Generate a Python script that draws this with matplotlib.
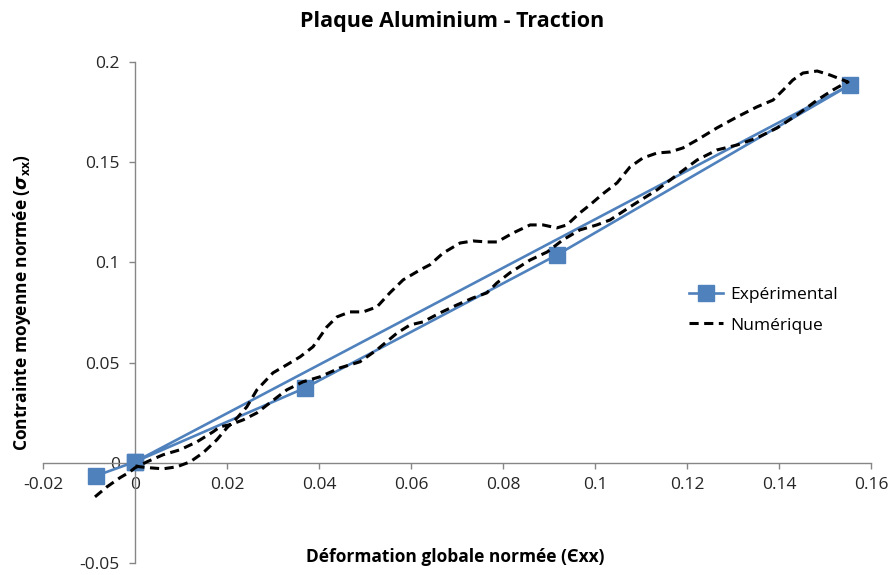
import numpy as np
import matplotlib.pyplot as plt

plt.rcParams['font.family'] = ['Open Sans', 'DejaVu Sans']
plt.rcParams['mathtext.fontset'] = 'custom'
plt.rcParams['mathtext.it'] = 'DejaVu Sans:bold:italic'
plt.rcParams['mathtext.rm'] = 'Open Sans:bold'

# experimental loop (markers)
exp_x = [-0.0085, 0.0, 0.0370, 0.0917, 0.1554, 0.0]
exp_y = [-0.0065, 0.0005, 0.0374, 0.1037, 0.1885, 0.0005]

# numerical curve: loading branch then unloading branch
num_load_x = [-0.0087, -0.0061, -0.0033, -0.0011, 0.0, 0.0026, 0.0061, 0.0098, 0.0135,
              0.0170, 0.0185, 0.0207, 0.0235, 0.0265, 0.0293, 0.0330, 0.0365, 0.0402,
              0.0446, 0.0489, 0.0526, 0.0570, 0.0598, 0.0626, 0.0663, 0.0700, 0.0735,
              0.0765, 0.0787, 0.0815, 0.0859, 0.0896, 0.0930, 0.0967, 0.1004, 0.1033,
              0.1076, 0.1135, 0.1178, 0.1222, 0.1265, 0.1309, 0.1352, 0.1396, 0.1439,
              0.1483, 0.1517, 0.1548]
num_load_y = [-0.0170, -0.0120, -0.0075, -0.0045, -0.0025, 0.0005, 0.0040, 0.0065, 0.0105,
              0.0155, 0.0180, 0.0190, 0.0214, 0.0249, 0.0299, 0.0364, 0.0404, 0.0429,
              0.0474, 0.0504, 0.0564, 0.0648, 0.0688, 0.0703, 0.0748, 0.0788, 0.0823,
              0.0848, 0.0898, 0.0948, 0.1012, 0.1052, 0.1112, 0.1162, 0.1187, 0.1212,
              0.1277, 0.1362, 0.1436, 0.1511, 0.1561, 0.1586, 0.1621, 0.1671, 0.1736,
              0.1810, 0.1860, 0.1900]
num_unload_x = [0.1550, 0.1539, 0.1511, 0.1483, 0.1452, 0.1430, 0.1409, 0.1387, 0.1352,
                0.1309, 0.1265, 0.1222, 0.1191, 0.1163, 0.1135, 0.1104, 0.1076, 0.1048,
                0.1017, 0.0989, 0.0967, 0.0939, 0.0917, 0.0887, 0.0859, 0.0822, 0.0787,
                0.0765, 0.0735, 0.0707, 0.0670, 0.0641, 0.0620, 0.0583, 0.0554, 0.0526,
                0.0496, 0.0467, 0.0439, 0.0417, 0.0387, 0.0359, 0.0330, 0.0300, 0.0265,
                0.0243, 0.0222, 0.0200, 0.0178, 0.0148, 0.0120, 0.0091, 0.0061, 0.0033,
                0.0011, 0.0]
num_unload_y = [0.1900, 0.1910, 0.1935, 0.1955, 0.1945, 0.1910, 0.1860, 0.1810, 0.1776,
                0.1726, 0.1671, 0.1611, 0.1571, 0.1551, 0.1546, 0.1521, 0.1476, 0.1397,
                0.1342, 0.1287, 0.1247, 0.1187, 0.1172, 0.1187, 0.1187, 0.1147, 0.1102,
                0.1102, 0.1107, 0.1097, 0.1047, 0.0988, 0.0963, 0.0913, 0.0848, 0.0778,
                0.0753, 0.0753, 0.0728, 0.0678, 0.0579, 0.0529, 0.0489, 0.0449, 0.0364,
                0.0279, 0.0224, 0.0175, 0.0115, 0.0050, 0.0005, -0.0020, -0.0030, -0.0025,
                -0.0020, -0.0015]

num_x = num_load_x + num_unload_x
num_y = num_load_y + num_unload_y

blue = '#4F81BD'
axis_col = '#868686'

fig = plt.figure(figsize=(8.88, 5.75), dpi=100)
ax = fig.add_axes([43/888, 12/575, 828/888, 501/575])

ax.plot(exp_x, exp_y, color=blue, lw=1.9, marker='s', markersize=12,
        label='Expérimental', zorder=3)
ax.plot(num_x, num_y, color='black', lw=2.2, linestyle=(0, (3, 1.8)),
        label='Numérique', zorder=4)

ax.set_xlim(-0.02, 0.16)
ax.set_ylim(-0.05, 0.2)
xt = np.arange(-0.02, 0.1601, 0.02)
yt = np.arange(-0.05, 0.2001, 0.05)
ax.set_xticks(xt)
ax.set_yticks(yt)
ax.set_xticklabels([f"{round(v, 2):g}" for v in xt])
ax.set_yticklabels([f"{round(v, 2):g}" for v in yt])

ax.spines['left'].set_position(('data', 0))
ax.spines['bottom'].set_position(('data', 0))
ax.spines['top'].set_visible(False)
ax.spines['right'].set_visible(False)
for s in ('left', 'bottom'):
    ax.spines[s].set_color(axis_col)
    ax.spines[s].set_linewidth(1.0)
ax.tick_params(axis='both', direction='out', length=4, width=1.0, color=axis_col,
               labelsize=12.5, labelcolor='#262626')
ax.tick_params(axis='x', pad=6)
ax.tick_params(axis='y', pad=7)

fig.text(452/888, 1 - 22/575, 'Plaque Aluminium - Traction', ha='center', va='center',
         fontsize=15.5, fontweight='bold')
fig.text(455/888, 1 - 557/575, 'Déformation globale normée (Єxx)', ha='center',
         va='center', fontsize=12.5, fontweight='bold')
fig.text(22/888, 1 - 302/575, r'Contrainte moyenne normée ($\sigma_{\mathrm{xx}}$)',
         ha='center', va='center', rotation=90, fontsize=12.5, fontweight='bold')

ax.legend(loc='center left', bbox_to_anchor=(673/888, 1 - 310/575),
          bbox_transform=fig.transFigure, frameon=False, fontsize=12.5,
          handlelength=2.0, handletextpad=0.4, labelspacing=0.85)

fig.savefig('out.png', dpi=100)
